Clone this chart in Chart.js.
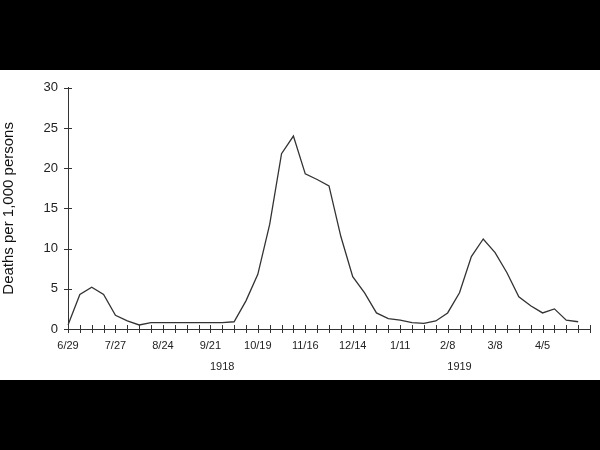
<!DOCTYPE html>
<html>
<head>
<meta charset="utf-8">
<script src="https://cdn.jsdelivr.net/npm/chart.js@4/dist/chart.umd.min.js"></script>
<style>
  html, body { margin: 0; padding: 0; background: #000; }
  #wrap { position: absolute; left: 0; top: 70px; width: 600px; height: 310px; background: #fff; }
</style>
</head>
<body>
<div id="wrap"><canvas id="chart" width="600" height="310"></canvas></div>
<script>
// weekly labels, 6/29/1918 onward
const weekLabels = ['6/29','7/6','7/13','7/20','7/27','8/3','8/10','8/17','8/24','8/31','9/7','9/14','9/21','9/28',
  '10/5','10/12','10/19','10/26','11/2','11/9','11/16','11/23','11/30','12/7','12/14','12/21','12/28',
  '1/4','1/11','1/18','1/25','2/1','2/8','2/15','2/22','3/1','3/8','3/15','3/22','3/29','4/5','4/12','4/19','4/26','5/3'];
const shownLabels = ['6/29','7/27','8/24','9/21','10/19','11/16','12/14','1/11','2/8','3/8','4/5'];
const deaths = [0.5,4.3,5.2,4.3,1.7,1.0,0.5,0.8,0.8,0.8,0.8,0.8,0.8,0.8,0.9,3.5,6.8,13,21.8,24,19.3,18.6,17.8,11.5,
  6.5,4.5,2.0,1.3,1.1,0.8,0.7,1.0,2.0,4.5,9.0,11.2,9.5,7.0,4.0,2.9,2.0,2.5,1.1,0.9,null];
const yearLabels = [{ text: '1918', at: '9/28' }, { text: '1919', at: '2/15' }];

const crossTicks = {
  id: 'crossTicks',
  afterDraw(chart) {
    const { ctx, chartArea, scales: { x, y } } = chart;
    ctx.save();
    ctx.strokeStyle = '#333';
    ctx.lineWidth = 1;
    ctx.beginPath();
    weekLabels.forEach((l, i) => {
      const px = Math.round(x.getPixelForValue(i)) + 0.5;
      ctx.moveTo(px, chartArea.bottom - 4); ctx.lineTo(px, chartArea.bottom + 4);
    });
    [0, 5, 10, 15, 20, 25, 30].forEach(v => {
      const py = Math.round(y.getPixelForValue(v)) + 0.5;
      ctx.moveTo(chartArea.left - 4, py); ctx.lineTo(chartArea.left + 4, py);
    });
    ctx.stroke();
    ctx.fillStyle = '#222';
    ctx.font = '11px "Liberation Sans", Arial, sans-serif';
    ctx.textAlign = 'center';
    yearLabels.forEach(yl => {
      ctx.fillText(yl.text, x.getPixelForValue(weekLabels.indexOf(yl.at)), chartArea.bottom + 41);
    });
    ctx.restore();
  }
};

new Chart(document.getElementById('chart').getContext('2d'), {
  type: 'line',
  data: {
    labels: weekLabels,
    datasets: [{
      data: deaths,
      borderColor: '#333',
      borderWidth: 1.3,
      pointRadius: 0,
      tension: 0,
      fill: false
    }]
  },
  options: {
    responsive: false,
    animation: false,
    layout: { padding: { top: 12, right: 8, left: 0, bottom: 0 } },
    plugins: { legend: { display: false }, tooltip: { enabled: false } },
    scales: {
      x: {
        offset: false,
        grid: { display: false, drawTicks: false },
        border: { display: true, color: '#333' },
        afterFit: s => { s.height = 51; },
        ticks: {
          autoSkip: false,
          maxRotation: 0,
          padding: 10,
          color: '#222',
          font: { family: '"Liberation Sans", Arial, sans-serif', size: 11 },
          callback: function (v) {
            const l = this.getLabelForValue(v);
            return shownLabels.includes(l) ? l : '';
          }
        }
      },
      y: {
        min: 0, max: 30,
        grid: { display: false, drawTicks: false },
        border: { display: true, color: '#333' },
        afterFit: s => { s.width = 68; },
        title: {
          display: true,
          text: 'Deaths per 1,000 persons',
          color: '#111',
          padding: { top: 0, bottom: 6 },
          font: { family: '"Liberation Sans", Arial, sans-serif', size: 15 }
        },
        ticks: {
          stepSize: 5,
          padding: 10,
          color: '#222',
          font: { family: '"Liberation Sans", Arial, sans-serif', size: 13 }
        }
      }
    }
  },
  plugins: [crossTicks]
});
</script>
</body>
</html>
